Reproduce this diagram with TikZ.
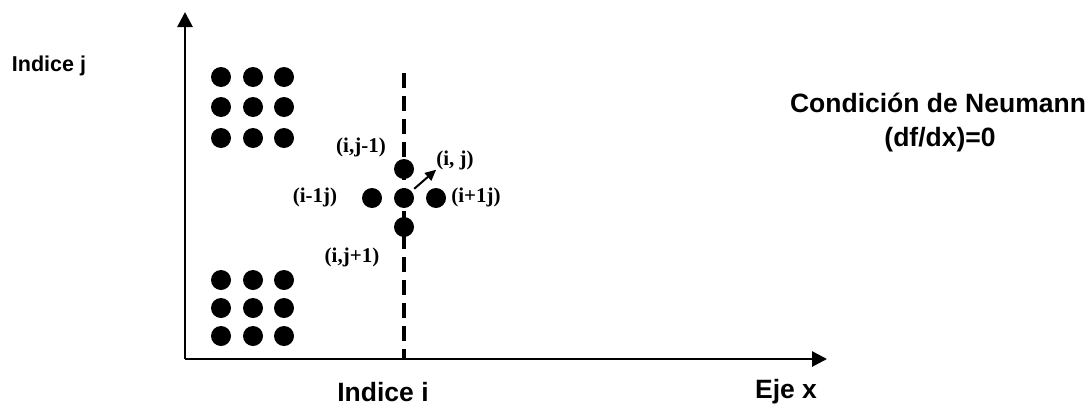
\documentclass[tikz,border=0pt]{standalone}
\usepackage{fontspec}
\setmainfont{Liberation Sans}
\newfontfamily\serifb{Liberation Serif}
\usetikzlibrary{arrows.meta}
\tikzset{
  punto/.style={circle, fill=black, inner sep=0pt, minimum width=20pt, minimum height=19pt},
  eje/.style={line width=2.7pt, -{Triangle[length=15pt, width=15pt]}},
  etiq/.style={font=\serifb\bfseries\fontsize{21}{21}\selectfont, inner sep=0pt},
  texto/.style={font=\bfseries\fontsize{26.5}{26.5}\selectfont, inner sep=0pt}
}
\begin{document}
\begin{tikzpicture}[x=1pt, y=-1pt]
    \useasboundingbox (0,0) rectangle (1091,407);

    \coordinate (O)  at (185,359);   % origen
    \coordinate (Yt) at (185,12);    % punta eje j
    \coordinate (Xt) at (827,359);   % punta eje x
    \coordinate (Dt) at (404,73);    % linea de frontera
    \coordinate (Db) at (404,359);

    % Ejes
    \draw[eje] (O) -- (Yt);
    \draw[eje] (O) -- (Xt);

    % Frontera (Neumann)
    \draw[line width=3.2pt, dash pattern=on 15pt off 8pt] (Dt) -- (Db);

    % Nodos de la malla
    \foreach \x in {221,253,284} {
        \foreach \y in {77,107,138} \node[punto] at (\x,\y) {};
        \foreach \y in {280,308,336} \node[punto] at (\x,\y) {};
    }

    % Molecula de cinco puntos
    \node[punto] (C) at (404,198) {};
    \node[punto] (N) at (404,169) {};
    \node[punto] (S) at (404,227) {};
    \node[punto] (W) at (372,198) {};
    \node[punto] (E) at (436,198) {};

    \node[etiq] (lN) at (361,147) {(i,j-1)};
    \node[etiq] (lC) at (455,160) {(i, j)};
    \node[etiq] (lW) at (315,197) {(i-1j)};
    \node[etiq] (lE) at (476,197) {(i+1j)};
    \node[etiq] (lS) at (352,257) {(i,j+1)};

    \draw[line width=2pt, -{Triangle[length=11pt, width=10pt]}]
        (C.45) ++(3,-2) coordinate (A0) -- (lC.south west);

    % Textos
    \node[texto, font=\bfseries\fontsize{21.5}{21.5}\selectfont] (Ij) at (49,66) {Indice j};
    \node[texto] (Ii) at (383,392) {Indice i};
    \node[texto] (Ex) at (786,392) {Eje x};
    \node[texto] (Cn) at (938,103) {Condición de Neumann};
    \node[texto] (Df) at (940,140) {(df/dx)=0};
\end{tikzpicture}
\end{document}
